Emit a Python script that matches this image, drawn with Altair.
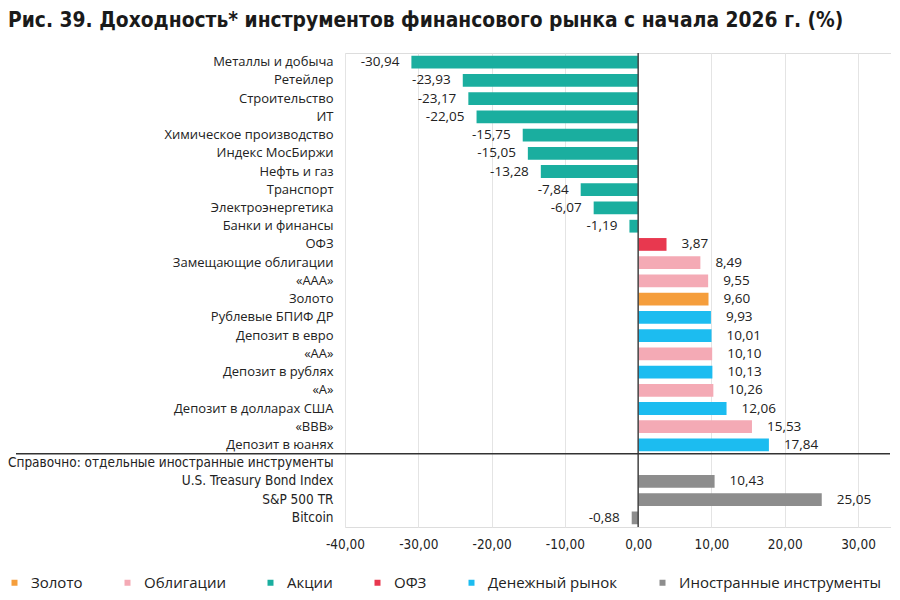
import altair as alt
import pandas as pd

categories = [
    "Металлы и добыча", "Ретейлер", "Строительство", "ИТ",
    "Химическое производство", "Индекс МосБиржи", "Нефть и газ", "Транспорт",
    "Электроэнергетика", "Банки и финансы", "ОФЗ", "Замещающие облигации",
    "«ААА»", "Золото", "Рублевые БПИФ ДР", "Депозит в евро", "«АА»",
    "Депозит в рублях", "«А»", "Депозит в долларах США", "«ВВВ»",
    "Депозит в юанях",
    "U.S. Treasury Bond Index", "S&P 500 TR", "Bitcoin",
]
values = [
    -30.94, -23.93, -23.17, -22.05, -15.75, -15.05, -13.28, -7.84, -6.07, -1.19,
    3.87, 8.49, 9.55, 9.60, 9.93, 10.01, 10.10, 10.13, 10.26, 12.06, 15.53, 17.84,
    10.43, 25.05, -0.88,
]
groups = [
    "Акции", "Акции", "Акции", "Акции", "Акции", "Акции", "Акции", "Акции",
    "Акции", "Акции", "ОФЗ", "Облигации", "Облигации", "Золото",
    "Денежный рынок", "Денежный рынок", "Облигации", "Денежный рынок",
    "Облигации", "Денежный рынок", "Облигации", "Денежный рынок",
    "Иностранные инструменты", "Иностранные инструменты", "Иностранные инструменты",
]
ref_label = "Справочно: отдельные иностранные инструменты"
foreign_rows = ["U.S. Treasury Bond Index", "S&P 500 TR", "Bitcoin"]
row_order = categories[:22] + [ref_label] + categories[22:]

legend_order = ["Золото", "Облигации", "Акции", "ОФЗ", "Денежный рынок",
                "Иностранные инструменты"]
legend_colors = ["#f59e3c", "#f4aab5", "#1aae9f", "#e8384f", "#1cbcf0", "#8d8d8d"]
tick_values = [-40, -30, -20, -10, 0, 10, 20, 30]

title_text = "Рис. 39. Доходность* инструментов финансового рынка с начала 2026 г. (%)"

df = pd.DataFrame({"cat": categories, "val": values, "grp": groups})

NARROW = "DejaVu Sans Condensed"
WIDE = "Open Sans"

special = "[" + ",".join("'" + s + "'" for s in [ref_label] + foreign_rows) + "]"

y_enc = alt.Y(
    "cat:N",
    scale=alt.Scale(domain=row_order, paddingInner=0.3, paddingOuter=0.15),
    axis=alt.Axis(
        title=None, domain=False, ticks=False, labelPadding=12, labelLimit=400,
        labelColor="#222",
        labelFont={"expr": f"indexof({special}, datum.value) >= 0 ? '{NARROW}' : '{WIDE}'"},
        labelFontSize={"expr": f"indexof({special}, datum.value) >= 0 ? 13.5 : 13"},
    ),
)
x_scale = alt.Scale(domain=[-40, 34.5], nice=False, padding=0, zero=False)
x_enc = alt.X(
    "val:Q",
    scale=x_scale,
    axis=alt.Axis(
        title=None, values=tick_values, domain=False, ticks=False,
        grid=True, gridColor="#e4e4e4", gridWidth=1, labelFlush=False,
        labelExpr="replace(replace(format(datum.value, '.2f'), '.', ','), '\u2212', '-')",
        labelFont=NARROW, labelFontSize=13.5, labelColor="#222", labelPadding=10,
    ),
)
x_plain = alt.X("val:Q", scale=x_scale)

base = alt.Chart(df)

bars = base.mark_bar().encode(
    y=y_enc,
    x=x_enc,
    color=alt.Color(
        "grp:N",
        scale=alt.Scale(domain=legend_order, range=legend_colors),
        legend=alt.Legend(
            title=None, orient="none", legendX=-338, legendY=522,
            direction="horizontal", symbolType="square", symbolSize=36,
            labelFont=WIDE, labelFontSize=15, labelColor="#222",
            columnPadding=37, labelOffset=9, labelLimit=400,
        ),
    ),
)

label_expr = "replace(replace(format(datum.val, '.2f'), '.', ','), '\u2212', '-')"

neg_text = base.transform_filter("datum.val < 0").transform_calculate(
    lbl=label_expr
).mark_text(align="right", baseline="middle", dx=-12, font=WIDE, fontSize=13.5,
            color="#222").encode(y=y_enc, x=x_plain, text="lbl:N")

pos_text = base.transform_filter("datum.val >= 0").transform_calculate(
    lbl=label_expr
).mark_text(align="left", baseline="middle", dx=15, font=WIDE, fontSize=13.5,
            color="#222").encode(y=y_enc, x=x_plain, text="lbl:N")

zero_rule = alt.Chart(pd.DataFrame({"val": [0.0]})).mark_rule(
    color="#444", strokeWidth=1.5
).encode(x=x_plain)

sep_rule = alt.Chart(pd.DataFrame({"cat": [ref_label]})).mark_rule(
    color="#333", strokeWidth=1.5, yOffset=-3
).encode(
    y=alt.Y("cat:N", bandPosition=0),
    x=alt.value(-329), x2=alt.value(545),
)

chart = alt.layer(bars, zero_rule, neg_text, pos_text, sep_rule).properties(
    width=546, height=474,
    padding={"left": 337, "top": 45, "right": 0, "bottom": 65},
    autosize=alt.AutoSizeParams(type="none"),
    title=alt.TitleParams(
        title_text, anchor="start", frame="group", dx=-337, offset=20, fontSize=20.8,
        font=NARROW, fontWeight="bold", color="#1a1a1a",
    ),
).configure_view(stroke=None).configure(background="white")

chart.save("out.html", embed_options={"renderer": "svg", "actions": False})
